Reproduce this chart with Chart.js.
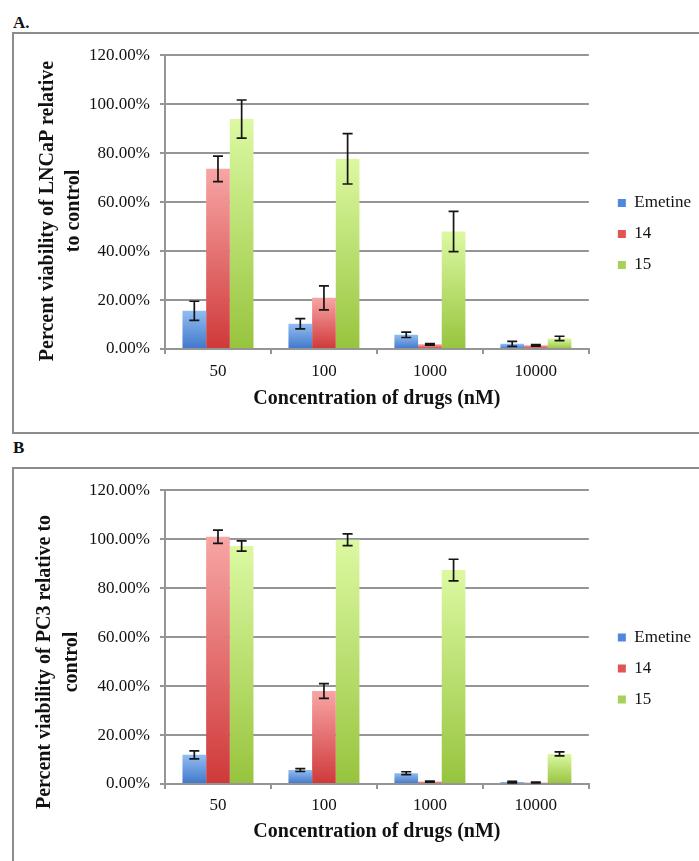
<!DOCTYPE html>
<html><head><meta charset="utf-8">
<script src="https://cdn.jsdelivr.net/npm/chart.js@4.4.0/dist/chart.umd.min.js"></script>
<style>
html,body{margin:0;padding:0;background:#fff;width:699px;height:861px;overflow:hidden;position:relative;font-family:"Liberation Serif",serif;}
.panel{position:absolute;left:12px;width:700px;border:2px solid #8c8c8c;box-sizing:border-box;}
#boxA{top:32px;height:402px;}
#boxB{top:467px;height:420px;}
.lab{position:absolute;left:13px;font:bold 17px "Liberation Serif",serif;color:#111;line-height:20px;}
canvas{position:absolute;}
</style></head><body>
<div class="lab" style="top:13px">A.</div>
<div class="panel" id="boxA"></div>
<div class="lab" style="top:438px">B</div>
<div class="panel" id="boxB"></div>
<canvas id="cA" width="684" height="380" style="left:15px;top:35px"></canvas>
<canvas id="cB" width="684" height="378" style="left:15px;top:470px"></canvas>
<script>
// ---- data ----
const categories = ['50', '100', '1000', '10000'];
const seriesNames = ['Emetine', '14', '15'];

const lncapEmetine = [15.6, 10.3, 5.8, 2.1];
const lncap14      = [73.6, 20.9, 1.9, 1.5];
const lncap15      = [93.9, 77.7, 48.0, 4.3];
const lncapEmetineErr = [3.9, 2.1, 1.1, 1.0];
const lncap14Err      = [5.2, 4.9, 0.3, 0.3];
const lncap15Err      = [7.8, 10.3, 8.2, 0.9];

const pc3Emetine = [11.9, 5.7, 4.4, 0.8];
const pc314      = [101.0, 38.0, 1.0, 0.6];
const pc315      = [97.2, 99.8, 87.4, 12.3];
const pc3EmetineErr = [1.6, 0.6, 0.6, 0.3];
const pc314Err      = [2.7, 3.0, 0.2, 0.2];
const pc315Err      = [2.1, 2.4, 4.4, 0.8];

const yMin = 0, yMax = 120, yStep = 20;

const yTitleA = ['Percent viability of LNCaP relative', 'to control'];
const yTitleB = ['Percent viability of PC3 relative to', 'control'];
const xTitle = 'Concentration of drugs (nM)';

// ---- styles ----
const FAM = '"Liberation Serif", serif';
const GRID = '#959595';
const TXT = '#111';
const palette = [
  {top: '#93bdf2', bottom: '#3f77c9', flat: '#4f88dc'},
  {top: '#f8a5a5', bottom: '#cf3939', flat: '#e05454'},
  {top: '#dcf9a2', bottom: '#97c43e', flat: '#a6d25a'}
];

function barFill(p) {
  return function(ctx) {
    if (ctx.type !== 'data') return p.flat;
    const chart = ctx.chart;
    if (!chart.chartArea || !chart.scales.y) return p.flat;
    const ys = chart.scales.y;
    const y0 = ys.getPixelForValue(ctx.raw);
    const y1 = ys.getPixelForValue(0);
    if (!isFinite(y0) || !isFinite(y1) || y1 - y0 < 1) return p.flat;
    const g = chart.ctx.createLinearGradient(0, y0, 0, y1);
    g.addColorStop(0, p.top);
    g.addColorStop(1, p.bottom);
    return g;
  };
}

const errorBars = {
  id: 'errorBars',
  afterDatasetsDraw(chart) {
    const c = chart.ctx, ys = chart.scales.y;
    c.save();
    c.strokeStyle = '#151515';
    c.lineWidth = 1.7;
    chart.data.datasets.forEach((ds, i) => {
      const meta = chart.getDatasetMeta(i);
      meta.data.forEach((bar, j) => {
        const v = ds.data[j], e = ds.errors[j];
        const yt = ys.getPixelForValue(v + e), yb = ys.getPixelForValue(Math.max(v - e, 0));
        const x = bar.x, hw = 5;
        c.beginPath();
        c.moveTo(x, yt); c.lineTo(x, yb);
        c.moveTo(x - hw, yt); c.lineTo(x + hw, yt);
        c.moveTo(x - hw, yb); c.lineTo(x + hw, yb);
        c.stroke();
      });
    });
    c.restore();
  }
};

const yTitlePlugin = {
  id: 'yTitle',
  afterDraw(chart, args, opts) {
    const c = chart.ctx;
    c.save();
    c.font = 'bold 20px ' + FAM;
    c.fillStyle = '#111';
    c.textAlign = 'center';
    c.textBaseline = 'middle';
    opts.lines.forEach((t, k) => {
      c.save();
      c.translate(opts.xs[k], opts.cy);
      c.rotate(-Math.PI / 2);
      c.fillText(t, 0, 0);
      c.restore();
    });
    c.restore();
  }
};

const legendShift = {
  id: 'legendShift',
  afterLayout(chart) {
    const lg = chart.legend;
    if (lg) { lg.left += 15; lg.right += 15; }
  }
};

function makeChart(id, vals, errs, yTitle, p) {
  return new Chart(document.getElementById(id), {
    type: 'bar',
    data: {
      labels: categories,
      datasets: seriesNames.map((n, i) => ({
        label: n,
        data: vals[i],
        errors: errs[i],
        backgroundColor: barFill(palette[i]),
        borderWidth: 0,
        categoryPercentage: 0.67,
        barPercentage: 1.0
      }))
    },
    options: {
      responsive: false,
      animation: false,
      layout: {padding: {left: 16, top: p.padTop, right: 13, bottom: 0}},
      plugins: {
        legend: {
          position: 'right',
          labels: {
            font: {family: FAM, size: 17}, color: TXT, boxWidth: 8, boxHeight: 8, padding: 14,
            generateLabels(chart) {
              const items = Chart.defaults.plugins.legend.labels.generateLabels(chart);
              items.forEach((it, k) => { it.fillStyle = palette[it.datasetIndex].flat; it.lineWidth = 0; });
              return items;
            }
          }
        },
        tooltip: {enabled: false},
        yTitle: {lines: yTitle, xs: p.titleXs, cy: p.titleCy}
      },
      scales: {
        x: {
          grid: {display: true, drawOnChartArea: false, drawTicks: true, tickLength: 5, offset: true, color: GRID, lineWidth: 2},
          border: {display: true, color: GRID, width: 2},
          ticks: {font: {family: FAM, size: 17}, color: TXT, padding: p.xTickPad},
          title: {display: true, text: xTitle, color: '#111', font: {family: FAM, size: 20, weight: 'bold', lineHeight: 1.2}, padding: {top: 4, bottom: 4}},
          afterFit(s) { s.height = p.xHeight; }
        },
        y: {
          min: yMin, max: yMax,
          ticks: {stepSize: yStep, font: {family: FAM, size: 17}, color: TXT, padding: 10,
                  callback: v => Number(v).toFixed(2) + '%'},
          grid: {color: GRID, lineWidth: 2, tickLength: 5, drawTicks: true},
          border: {display: true, color: GRID, width: 2},
          afterFit(s) { s.width = 134; }
        }
      }
    },
    plugins: [errorBars, yTitlePlugin, legendShift]
  });
}

makeChart('cA', [lncapEmetine, lncap14, lncap15], [lncapEmetineErr, lncap14Err, lncap15Err], yTitleA,
  {padTop: 18, xTickPad: 7, xHeight: 66, titleXs: [33, 59], titleCy: 176});
makeChart('cB', [pc3Emetine, pc314, pc315], [pc3EmetineErr, pc314Err, pc315Err], yTitleB,
  {padTop: 19, xTickPad: 6, xHeight: 64, titleXs: [30, 57], titleCy: 192});
</script>
</body></html>
